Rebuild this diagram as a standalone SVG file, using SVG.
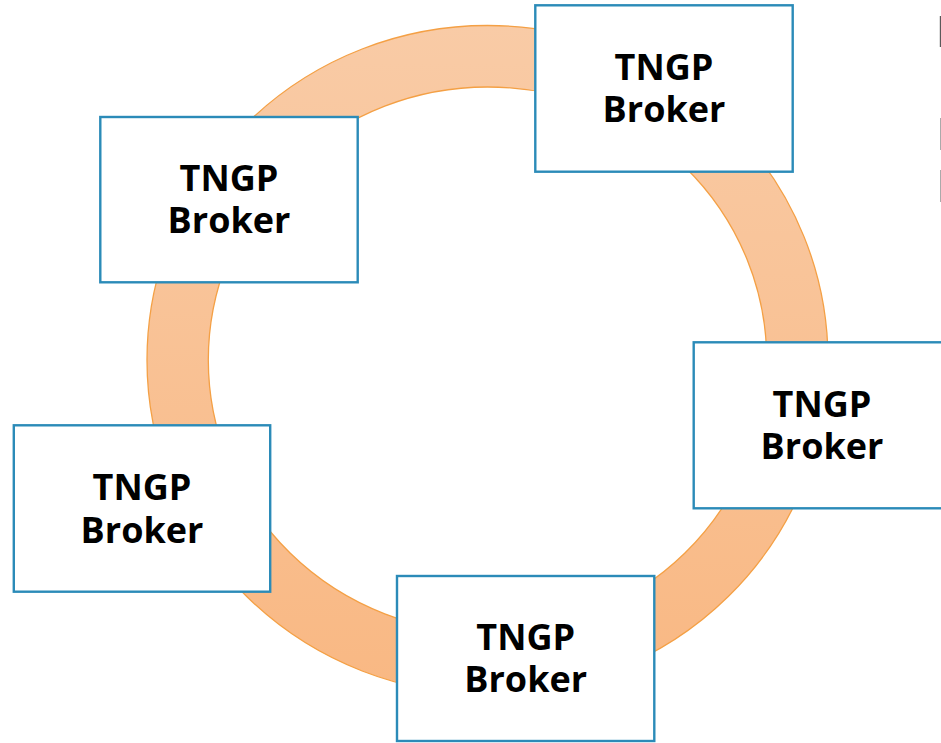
<svg xmlns="http://www.w3.org/2000/svg" width="941" height="743" viewBox="0 0 941 743">
  <style>
    .box { fill: #ffffff; stroke: #2B8BB8; stroke-width: 2.4; }
    .lbl { font-family: "Open Sans", "Noto Sans", "Liberation Sans", sans-serif; font-weight: 700; font-size: 36px; fill: #000000; text-anchor: middle; }
    .ring { fill: url(#ringFill); stroke: #F4A045; stroke-width: 1.3; fill-rule: evenodd; }
  </style>
  <defs>
    <linearGradient id="ringFill" x1="0" y1="0" x2="0" y2="1">
      <stop offset="0" stop-color="#F9CBA6"/>
      <stop offset="1" stop-color="#F9B883"/>
    </linearGradient>
  </defs>

  <rect width="941" height="743" fill="#ffffff"/>

  <!-- ring linking the brokers -->
  <g id="connectors">
    <path class="ring" d="M 147 360 A 340.5 334.5 0 1 0 828 360 A 340.5 334.5 0 1 0 147 360 Z
                          M 208.3 360 A 279.2 273 0 1 1 766.7 360 A 279.2 273 0 1 1 208.3 360 Z"/>
  </g>

  <g id="broker-top-right">
    <rect class="box" x="535.3" y="5.3" width="257.4" height="166.4"/>
    <text class="lbl" x="664" y="79.5">TNGP</text>
    <text class="lbl" x="664" y="122">Broker</text>
  </g>

  <g id="broker-top-left">
    <rect class="box" x="100.3" y="117" width="257.4" height="165.3"/>
    <text class="lbl" x="229" y="191">TNGP</text>
    <text class="lbl" x="229" y="233.3">Broker</text>
  </g>

  <g id="broker-right">
    <rect class="box" x="693.7" y="342.3" width="257.4" height="166"/>
    <text class="lbl" x="822" y="416.5">TNGP</text>
    <text class="lbl" x="822" y="458.8">Broker</text>
  </g>

  <g id="broker-left">
    <rect class="box" x="13.8" y="425.3" width="256.4" height="166.4"/>
    <text class="lbl" x="142" y="500">TNGP</text>
    <text class="lbl" x="142" y="542.5">Broker</text>
  </g>

  <g id="broker-bottom">
    <rect class="box" x="397" y="576" width="257.3" height="165"/>
    <text class="lbl" x="525.7" y="649.5">TNGP</text>
    <text class="lbl" x="525.7" y="692">Broker</text>
  </g>

  <!-- edges of content cut off at the right border -->
  <g id="right-edge">
    <rect x="939.8" y="16" width="1.4" height="31" fill="#5a5a5a"/>
    <rect x="940" y="118" width="1" height="32" fill="#aaaaaa"/>
    <rect x="940" y="170" width="1" height="32" fill="#aaaaaa"/>
  </g>
</svg>
